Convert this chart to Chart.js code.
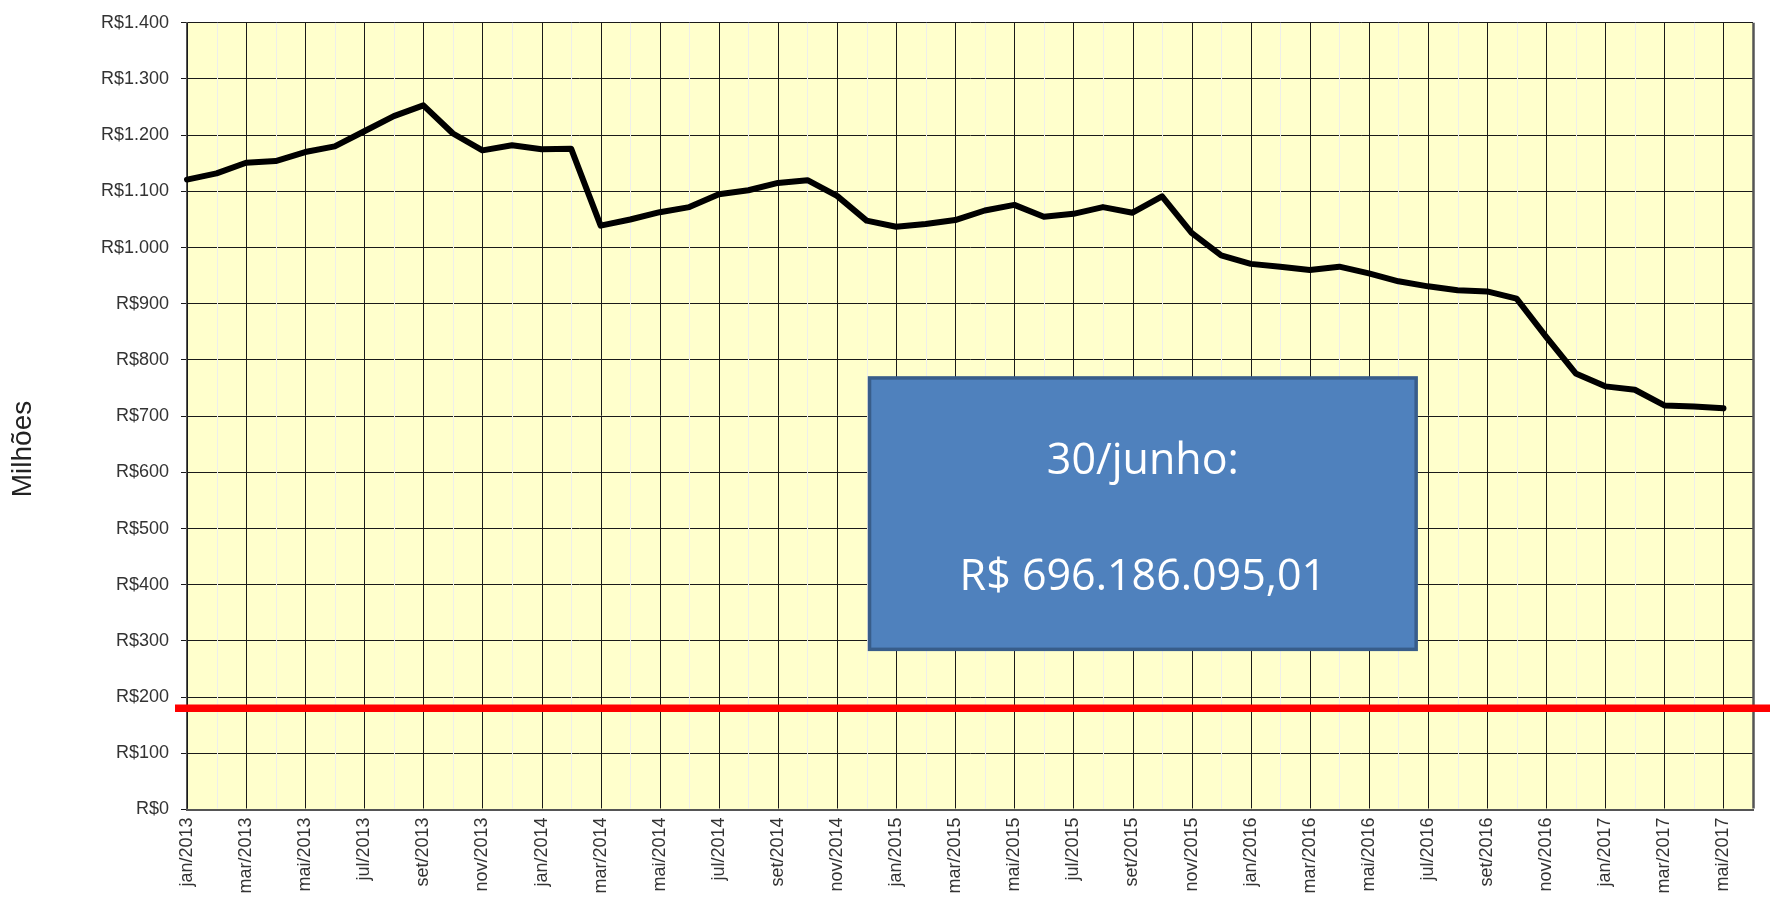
<!DOCTYPE html>
<html>
<head>
<meta charset="utf-8">
<title>Saldo mensal</title>
<script src="https://cdn.jsdelivr.net/npm/chart.js@4/dist/chart.umd.min.js"></script>
<style>
    html, body { margin: 0; padding: 0; background: #ffffff; }
    #wrap { width: 1770px; height: 900px; position: relative; }
</style>
</head>
<body>
<div id="wrap"><canvas id="saldo"></canvas></div>
<script>
// categorias: jan/2013 .. jun/2017 (jun/2017 sem valor plotado)
const months = [
    'jan/2013', 'fev/2013', 'mar/2013', 'abr/2013', 'mai/2013', 'jun/2013', 'jul/2013', 'ago/2013', 'set/2013', 'out/2013', 'nov/2013', 'dez/2013',
    'jan/2014', 'fev/2014', 'mar/2014', 'abr/2014', 'mai/2014', 'jun/2014', 'jul/2014', 'ago/2014', 'set/2014', 'out/2014', 'nov/2014', 'dez/2014',
    'jan/2015', 'fev/2015', 'mar/2015', 'abr/2015', 'mai/2015', 'jun/2015', 'jul/2015', 'ago/2015', 'set/2015', 'out/2015', 'nov/2015', 'dez/2015',
    'jan/2016', 'fev/2016', 'mar/2016', 'abr/2016', 'mai/2016', 'jun/2016', 'jul/2016', 'ago/2016', 'set/2016', 'out/2016', 'nov/2016', 'dez/2016',
    'jan/2017', 'fev/2017', 'mar/2017', 'abr/2017', 'mai/2017', 'jun/2017'
];

// saldo em milhões de R$
const saldo = [
    1121, 1132, 1151, 1154, 1170, 1180, 1207, 1234, 1253, 1203, 1173, 1182, 1175, 1176,
    1039, 1050, 1063, 1072, 1095, 1102, 1115, 1120, 1092, 1048, 1037, 1042, 1049, 1066,
    1076, 1055, 1060, 1072, 1062, 1091, 1026, 986, 971, 966, 960, 966, 954, 940,
    931, 924, 922, 909, 841, 776, 753, 747, 719, 717, 714
];

// limite (linha vermelha)
const limite = 180;

const yTicks = [0, 100, 200, 300, 400, 500, 600, 700, 800, 900, 1000, 1100, 1200, 1300, 1400];

const yTitle = 'Milhões';
const boxLines = ['30/junho:', 'R$ 696.186.095,01'];

function formatReais(v) {
    let s = String(Math.round(v));
    s = s.replace(/\B(?=(\d{3})+(?!\d))/g, '.');
    return 'R$' + s;
}

const darkGrid = '#1a1a1a';
const lightGrid = '#eeeeea';
const labelFont = '"Liberation Sans", Arial, sans-serif';

// fundo amarelo da área do gráfico
const plotBackground = {
    id: 'plotBackground',
    beforeDraw(chart) {
        const {ctx, chartArea} = chart;
        ctx.save();
        ctx.fillStyle = '#ffffcc';
        ctx.fillRect(chartArea.left, chartArea.top, chartArea.right - chartArea.left, chartArea.bottom - chartArea.top);
        ctx.restore();
    }
};

// linhas verticais por mês: escuras nos meses rotulados, claras nos outros
const monthGrid = {
    id: 'monthGrid',
    beforeDatasetsDraw(chart) {
        const {ctx, chartArea} = chart;
        const xs = chart.scales.x;
        ctx.save();
        for (let i = 0; i < months.length; i++) {
            let x = Math.round(xs.getPixelForValue(i)) + 0.5;
            let last = i === months.length - 1;
            ctx.strokeStyle = last ? '#555555' : (i % 2 === 0 ? darkGrid : lightGrid);
            ctx.lineWidth = last ? 2.5 : 1;
            ctx.beginPath();
            ctx.moveTo(x, chartArea.top);
            ctx.lineTo(x, chartArea.bottom - 1);
            ctx.stroke();
        }
        ctx.restore();
    }
};

// linha do limite, título do eixo e caixa com o saldo de junho
const overlays = {
    id: 'overlays',
    afterDraw(chart) {
        const {ctx, chartArea} = chart;
        const xs = chart.scales.x;
        const ys = chart.scales.y;

        let yLim = ys.getPixelForValue(limite);
        ctx.save();
        ctx.strokeStyle = '#ff0000';
        ctx.lineWidth = 7.5;
        ctx.beginPath();
        ctx.moveTo(chartArea.left - 12, yLim);
        ctx.lineTo(chart.width, yLim);
        ctx.stroke();

        // título do eixo y, um pouco abaixo do centro como no original
        ctx.save();
        ctx.translate(23, 449);
        ctx.rotate(-Math.PI / 2);
        ctx.fillStyle = '#222222';
        ctx.font = '28px ' + labelFont;
        ctx.textAlign = 'center';
        ctx.textBaseline = 'middle';
        ctx.fillText(yTitle, 0, 0);
        ctx.restore();

        let step = xs.getPixelForValue(1) - xs.getPixelForValue(0);
        let left = xs.getPixelForValue(23) + 0.1 * step;
        let right = left + 18.5 * step;
        let top = ys.getPixelForValue(768);
        let bottom = ys.getPixelForValue(285);
        ctx.fillStyle = '#4f81bd';
        ctx.fillRect(left, top, right - left, bottom - top);
        ctx.strokeStyle = '#385d8a';
        ctx.lineWidth = 3.5;
        ctx.strokeRect(left, top, right - left, bottom - top);

        ctx.fillStyle = '#ffffff';
        ctx.font = '43px "Open Sans", "Noto Sans", sans-serif';
        ctx.textAlign = 'center';
        ctx.textBaseline = 'alphabetic';
        let cx = (left + right) / 2;
        ctx.fillText(boxLines[0], cx, top + 96);
        ctx.fillText(boxLines[1], cx, top + 212);
        ctx.restore();
    }
};

let chartConfig = {
    type: 'line',
    data: {
        labels: months,
        datasets: [{
            label: 'Saldo',
            data: saldo,
            borderColor: '#000000',
            borderWidth: 6,
            pointRadius: 0,
            tension: 0,
            borderJoinStyle: 'round',
            borderCapStyle: 'round',
            fill: false
        }]
    },
    options: {
        responsive: true,
        maintainAspectRatio: false,
        animation: false,
        layout: {
            padding: { top: 20, right: 17, left: 0, bottom: 0 }
        },
        plugins: {
            legend: { display: false },
            tooltip: { enabled: false }
        },
        scales: {
            x: {
                type: 'category',
                offset: false,
                border: { display: true, color: '#555555', width: 2 },
                grid: { display: false, drawTicks: false },
                ticks: {
                    autoSkip: false,
                    minRotation: 90,
                    maxRotation: 90,
                    padding: 8,
                    color: '#333333',
                    font: { family: labelFont, size: 18 },
                    callback: function (val, idx) {
                        return idx % 2 === 0 ? months[idx] : '';
                    }
                },
                afterFit: (axis) => {
                    axis.height = 90.5;
                    axis.paddingLeft = 0;
                    axis.paddingRight = 0;
                }
            },
            y: {
                min: 0,
                max: 1400,
                border: { display: true, color: '#555555', width: 2 },
                grid: {
                    color: darkGrid,
                    lineWidth: 1,
                    tickLength: 6
                },
                afterBuildTicks: (axis) => { axis.ticks = yTicks.map(v => ({ value: v })); },
                ticks: {
                    padding: 12,
                    color: '#333333',
                    font: { family: labelFont, size: 18 },
                    callback: (v) => formatReais(v)
                },
                afterFit: (axis) => { axis.width = 187; }
            }
        }
    },
    plugins: [plotBackground, monthGrid, overlays]
};

let saldoChart = new Chart(document.getElementById('saldo'), chartConfig);
</script>
</body>
</html>
